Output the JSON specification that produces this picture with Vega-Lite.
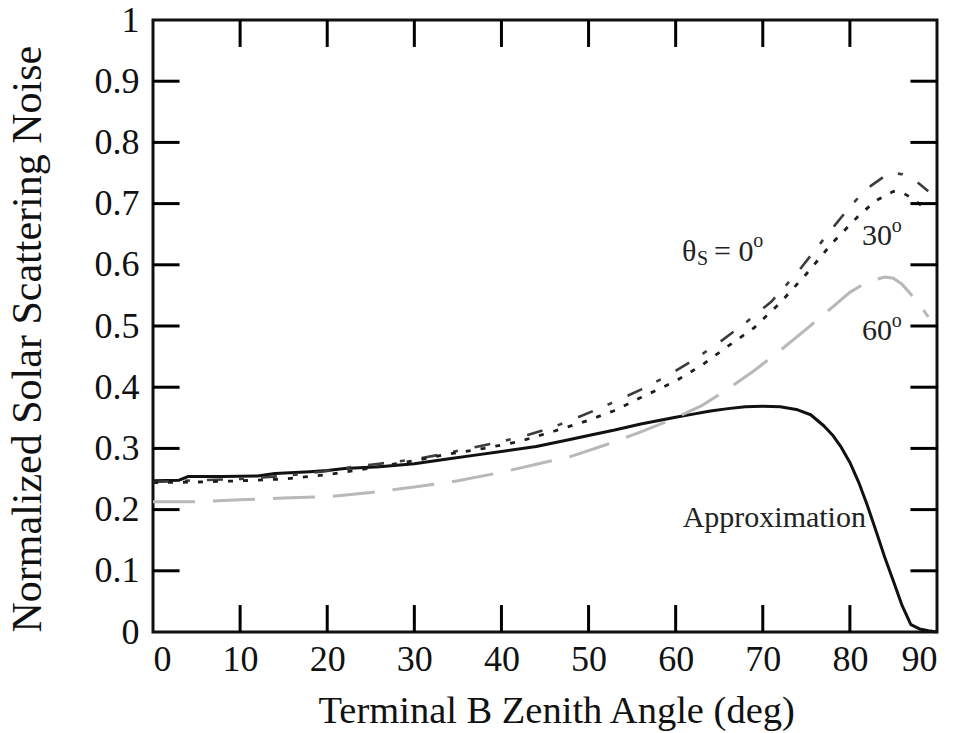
{
  "$schema": "https://vega.github.io/schema/vega-lite/v6.json",
  "width": 784,
  "height": 612,
  "autosize": "none",
  "padding": {"left": 153, "top": 20, "right": 27, "bottom": 101},
  "background": "white",
  "config": {
    "view": {"stroke": "#111", "strokeWidth": 3},
    "font": "Liberation Serif",
    "axis": {
      "labelFont": "Liberation Serif",
      "labelFontSize": 36,
      "labelColor": "#111",
      "titleFont": "Liberation Serif",
      "titleFontSize": 38.5,
      "titleFontWeight": "normal",
      "titleColor": "#111",
      "domain": false,
      "ticks": false,
      "grid": false
    }
  },
  "datasets": {
    "curves": [
      {"angle": 0, "noise": 0.247, "series": "approx"},
      {"angle": 3, "noise": 0.248, "series": "approx"},
      {"angle": 4, "noise": 0.254, "series": "approx"},
      {"angle": 8, "noise": 0.254, "series": "approx"},
      {"angle": 12, "noise": 0.255, "series": "approx"},
      {"angle": 14, "noise": 0.259, "series": "approx"},
      {"angle": 18, "noise": 0.262, "series": "approx"},
      {"angle": 20, "noise": 0.264, "series": "approx"},
      {"angle": 22, "noise": 0.267, "series": "approx"},
      {"angle": 26, "noise": 0.270, "series": "approx"},
      {"angle": 30, "noise": 0.275, "series": "approx"},
      {"angle": 34, "noise": 0.283, "series": "approx"},
      {"angle": 37, "noise": 0.289, "series": "approx"},
      {"angle": 40, "noise": 0.295, "series": "approx"},
      {"angle": 44, "noise": 0.303, "series": "approx"},
      {"angle": 48, "noise": 0.315, "series": "approx"},
      {"angle": 50, "noise": 0.321, "series": "approx"},
      {"angle": 53, "noise": 0.330, "series": "approx"},
      {"angle": 56, "noise": 0.340, "series": "approx"},
      {"angle": 60, "noise": 0.351, "series": "approx"},
      {"angle": 62, "noise": 0.356, "series": "approx"},
      {"angle": 64, "noise": 0.361, "series": "approx"},
      {"angle": 66, "noise": 0.365, "series": "approx"},
      {"angle": 68, "noise": 0.368, "series": "approx"},
      {"angle": 70, "noise": 0.369, "series": "approx"},
      {"angle": 72, "noise": 0.368, "series": "approx"},
      {"angle": 74, "noise": 0.363, "series": "approx"},
      {"angle": 75.5, "noise": 0.355, "series": "approx"},
      {"angle": 77, "noise": 0.337, "series": "approx"},
      {"angle": 78, "noise": 0.322, "series": "approx"},
      {"angle": 79, "noise": 0.302, "series": "approx"},
      {"angle": 80, "noise": 0.277, "series": "approx"},
      {"angle": 81, "noise": 0.245, "series": "approx"},
      {"angle": 82, "noise": 0.207, "series": "approx"},
      {"angle": 83, "noise": 0.165, "series": "approx"},
      {"angle": 84, "noise": 0.122, "series": "approx"},
      {"angle": 85, "noise": 0.083, "series": "approx"},
      {"angle": 86, "noise": 0.043, "series": "approx"},
      {"angle": 87, "noise": 0.012, "series": "approx"},
      {"angle": 88, "noise": 0.005, "series": "approx"},
      {"angle": 89, "noise": 0.002, "series": "approx"},
      {"angle": 90, "noise": 0.0, "series": "approx"},

      {"angle": 0, "noise": 0.245, "series": "s0"},
      {"angle": 5, "noise": 0.248, "series": "s0"},
      {"angle": 10, "noise": 0.250, "series": "s0"},
      {"angle": 15, "noise": 0.255, "series": "s0"},
      {"angle": 20, "noise": 0.263, "series": "s0"},
      {"angle": 23, "noise": 0.270, "series": "s0"},
      {"angle": 26, "noise": 0.275, "series": "s0"},
      {"angle": 30, "noise": 0.282, "series": "s0"},
      {"angle": 33, "noise": 0.290, "series": "s0"},
      {"angle": 36, "noise": 0.299, "series": "s0"},
      {"angle": 40, "noise": 0.311, "series": "s0"},
      {"angle": 43, "noise": 0.322, "series": "s0"},
      {"angle": 46, "noise": 0.335, "series": "s0"},
      {"angle": 49, "noise": 0.352, "series": "s0"},
      {"angle": 52, "noise": 0.370, "series": "s0"},
      {"angle": 56, "noise": 0.396, "series": "s0"},
      {"angle": 59, "noise": 0.418, "series": "s0"},
      {"angle": 62, "noise": 0.444, "series": "s0"},
      {"angle": 65, "noise": 0.473, "series": "s0"},
      {"angle": 68, "noise": 0.505, "series": "s0"},
      {"angle": 71, "noise": 0.540, "series": "s0"},
      {"angle": 74, "noise": 0.588, "series": "s0"},
      {"angle": 77, "noise": 0.642, "series": "s0"},
      {"angle": 80, "noise": 0.695, "series": "s0"},
      {"angle": 82, "noise": 0.725, "series": "s0"},
      {"angle": 84, "noise": 0.745, "series": "s0"},
      {"angle": 85, "noise": 0.750, "series": "s0"},
      {"angle": 86, "noise": 0.748, "series": "s0"},
      {"angle": 87, "noise": 0.742, "series": "s0"},
      {"angle": 88, "noise": 0.732, "series": "s0"},
      {"angle": 89, "noise": 0.720, "series": "s0"},

      {"angle": 0, "noise": 0.244, "series": "s30"},
      {"angle": 5, "noise": 0.245, "series": "s30"},
      {"angle": 10, "noise": 0.247, "series": "s30"},
      {"angle": 15, "noise": 0.250, "series": "s30"},
      {"angle": 20, "noise": 0.257, "series": "s30"},
      {"angle": 25, "noise": 0.268, "series": "s30"},
      {"angle": 30, "noise": 0.280, "series": "s30"},
      {"angle": 34, "noise": 0.291, "series": "s30"},
      {"angle": 38, "noise": 0.300, "series": "s30"},
      {"angle": 42, "noise": 0.311, "series": "s30"},
      {"angle": 46, "noise": 0.328, "series": "s30"},
      {"angle": 50, "noise": 0.346, "series": "s30"},
      {"angle": 53, "noise": 0.362, "series": "s30"},
      {"angle": 56, "noise": 0.383, "series": "s30"},
      {"angle": 60, "noise": 0.410, "series": "s30"},
      {"angle": 63, "noise": 0.436, "series": "s30"},
      {"angle": 66, "noise": 0.467, "series": "s30"},
      {"angle": 69, "noise": 0.497, "series": "s30"},
      {"angle": 72, "noise": 0.538, "series": "s30"},
      {"angle": 75, "noise": 0.585, "series": "s30"},
      {"angle": 78, "noise": 0.636, "series": "s30"},
      {"angle": 81, "noise": 0.680, "series": "s30"},
      {"angle": 83, "noise": 0.705, "series": "s30"},
      {"angle": 85, "noise": 0.720, "series": "s30"},
      {"angle": 86, "noise": 0.718, "series": "s30"},
      {"angle": 87, "noise": 0.710, "series": "s30"},
      {"angle": 88, "noise": 0.699, "series": "s30"},
      {"angle": 89, "noise": 0.690, "series": "s30"},

      {"angle": 0, "noise": 0.213, "series": "s60"},
      {"angle": 5, "noise": 0.213, "series": "s60"},
      {"angle": 10, "noise": 0.216, "series": "s60"},
      {"angle": 15, "noise": 0.219, "series": "s60"},
      {"angle": 20, "noise": 0.221, "series": "s60"},
      {"angle": 25, "noise": 0.228, "series": "s60"},
      {"angle": 30, "noise": 0.237, "series": "s60"},
      {"angle": 35, "noise": 0.247, "series": "s60"},
      {"angle": 40, "noise": 0.261, "series": "s60"},
      {"angle": 44, "noise": 0.274, "series": "s60"},
      {"angle": 48, "noise": 0.287, "series": "s60"},
      {"angle": 52, "noise": 0.306, "series": "s60"},
      {"angle": 56, "noise": 0.327, "series": "s60"},
      {"angle": 60, "noise": 0.350, "series": "s60"},
      {"angle": 63, "noise": 0.370, "series": "s60"},
      {"angle": 66, "noise": 0.397, "series": "s60"},
      {"angle": 69, "noise": 0.427, "series": "s60"},
      {"angle": 72, "noise": 0.460, "series": "s60"},
      {"angle": 75, "noise": 0.495, "series": "s60"},
      {"angle": 78, "noise": 0.531, "series": "s60"},
      {"angle": 80, "noise": 0.555, "series": "s60"},
      {"angle": 82, "noise": 0.572, "series": "s60"},
      {"angle": 84, "noise": 0.580, "series": "s60"},
      {"angle": 85, "noise": 0.578, "series": "s60"},
      {"angle": 86, "noise": 0.568, "series": "s60"},
      {"angle": 87, "noise": 0.552, "series": "s60"},
      {"angle": 88, "noise": 0.535, "series": "s60"},
      {"angle": 89, "noise": 0.515, "series": "s60"}
    ],
    "labels": [
      {"angle": 60.73, "noise": 0.606, "label": "θ"},
      {"angle": 64.4, "noise": 0.606, "label": "= 0"},
      {"angle": 81.4, "noise": 0.632, "label": "30"},
      {"angle": 81.4, "noise": 0.477, "label": "60"},
      {"angle": 60.8, "noise": 0.172, "label": "Approximation"}
    ],
    "sublabels": [
      {"angle": 62.45, "noise": 0.600, "label": "S"},
      {"angle": 68.9, "noise": 0.629, "label": "o"},
      {"angle": 84.8, "noise": 0.654, "label": "o"},
      {"angle": 84.8, "noise": 0.498, "label": "o"}
    ],
    "xticks": [{"tick": 10}, {"tick": 20}, {"tick": 30}, {"tick": 40}, {"tick": 50}, {"tick": 60}, {"tick": 70}, {"tick": 80}],
    "yticks": [{"tick": 0.1}, {"tick": 0.2}, {"tick": 0.3}, {"tick": 0.4}, {"tick": 0.5}, {"tick": 0.6}, {"tick": 0.7}, {"tick": 0.8}, {"tick": 0.9}]
  },
  "layer": [
    {
      "data": {"name": "curves"},
      "transform": [{"filter": "datum.series === 'approx'"}],
      "mark": {"type": "line", "color": "#111111", "strokeWidth": 3, "strokeCap": "butt", "strokeJoin": "round"},
      "encoding": {
        "x": {
          "field": "angle", "type": "quantitative",
          "scale": {"domain": [0, 90], "nice": false, "zero": false},
          "axis": {
            "orient": "bottom",
            "values": [0, 10, 20, 30, 40, 50, 60, 70, 80, 90],
            "labelPadding": 10,
            "title": "Terminal B Zenith Angle (deg)",
            "titleAlign": "left",
            "titleBaseline": "alphabetic",
            "titleX": 165,
            "titleY": 90
          }
        },
        "y": {
          "field": "noise", "type": "quantitative",
          "scale": {"domain": [0, 1], "nice": false, "zero": false},
          "axis": {
            "orient": "left",
            "values": [0, 0.1, 0.2, 0.3, 0.4, 0.5, 0.6, 0.7, 0.8, 0.9, 1],
            "format": "~g",
            "labelPadding": 14,
            "title": "Normalized Solar Scattering Noise",
            "titleFontSize": 42,
            "titleAngle": 270,
            "titleAlign": "left",
            "titleBaseline": "alphabetic",
            "titleX": -113,
            "titleY": 612
          }
        },
        "order": {"field": "angle", "type": "quantitative"}
      }
    },
    {
      "data": {"name": "curves"},
      "transform": [{"filter": "datum.series === 's0'"}],
      "mark": {"type": "line", "color": "#3c3c3c", "strokeWidth": 2.6, "strokeDash": [16, 16, 5, 17], "strokeCap": "butt"},
      "encoding": {
        "x": {"field": "angle", "type": "quantitative"},
        "y": {"field": "noise", "type": "quantitative"},
        "order": {"field": "angle", "type": "quantitative"}
      }
    },
    {
      "data": {"name": "curves"},
      "transform": [{"filter": "datum.series === 's30'"}],
      "mark": {"type": "line", "color": "#1e1e1e", "strokeWidth": 2.8, "strokeDash": [5, 10], "strokeCap": "butt"},
      "encoding": {
        "x": {"field": "angle", "type": "quantitative"},
        "y": {"field": "noise", "type": "quantitative"},
        "order": {"field": "angle", "type": "quantitative"}
      }
    },
    {
      "data": {"name": "curves"},
      "transform": [{"filter": "datum.series === 's60'"}],
      "mark": {"type": "line", "color": "#b8b8b8", "strokeWidth": 3, "strokeDash": [42, 18], "strokeCap": "butt"},
      "encoding": {
        "x": {"field": "angle", "type": "quantitative"},
        "y": {"field": "noise", "type": "quantitative"},
        "order": {"field": "angle", "type": "quantitative"}
      }
    },
    {
      "data": {"name": "xticks"},
      "mark": {"type": "tick", "color": "black", "thickness": 3, "size": 27, "orient": "vertical", "opacity": 1},
      "encoding": {
        "x": {"field": "tick", "type": "quantitative"},
        "y": {"datum": 0.022}
      }
    },
    {
      "data": {"name": "xticks"},
      "mark": {"type": "tick", "color": "black", "thickness": 3, "size": 27, "orient": "vertical", "opacity": 1},
      "encoding": {
        "x": {"field": "tick", "type": "quantitative"},
        "y": {"datum": 0.978}
      }
    },
    {
      "data": {"name": "yticks"},
      "mark": {"type": "tick", "color": "black", "thickness": 3, "size": 27, "orient": "horizontal", "opacity": 1},
      "encoding": {
        "y": {"field": "tick", "type": "quantitative"},
        "x": {"datum": 1.5}
      }
    },
    {
      "data": {"name": "yticks"},
      "mark": {"type": "tick", "color": "black", "thickness": 3, "size": 27, "orient": "horizontal", "opacity": 1},
      "encoding": {
        "y": {"field": "tick", "type": "quantitative"},
        "x": {"datum": 88.5}
      }
    },
    {
      "data": {"name": "labels"},
      "mark": {"type": "text", "align": "left", "baseline": "alphabetic", "font": "Liberation Serif", "fontSize": 30, "color": "#222"},
      "encoding": {
        "x": {"field": "angle", "type": "quantitative"},
        "y": {"field": "noise", "type": "quantitative"},
        "text": {"field": "label"}
      }
    },
    {
      "data": {"name": "sublabels"},
      "mark": {"type": "text", "align": "left", "baseline": "alphabetic", "font": "Liberation Serif", "fontSize": 20, "color": "#222"},
      "encoding": {
        "x": {"field": "angle", "type": "quantitative"},
        "y": {"field": "noise", "type": "quantitative"},
        "text": {"field": "label"}
      }
    }
  ]
}
